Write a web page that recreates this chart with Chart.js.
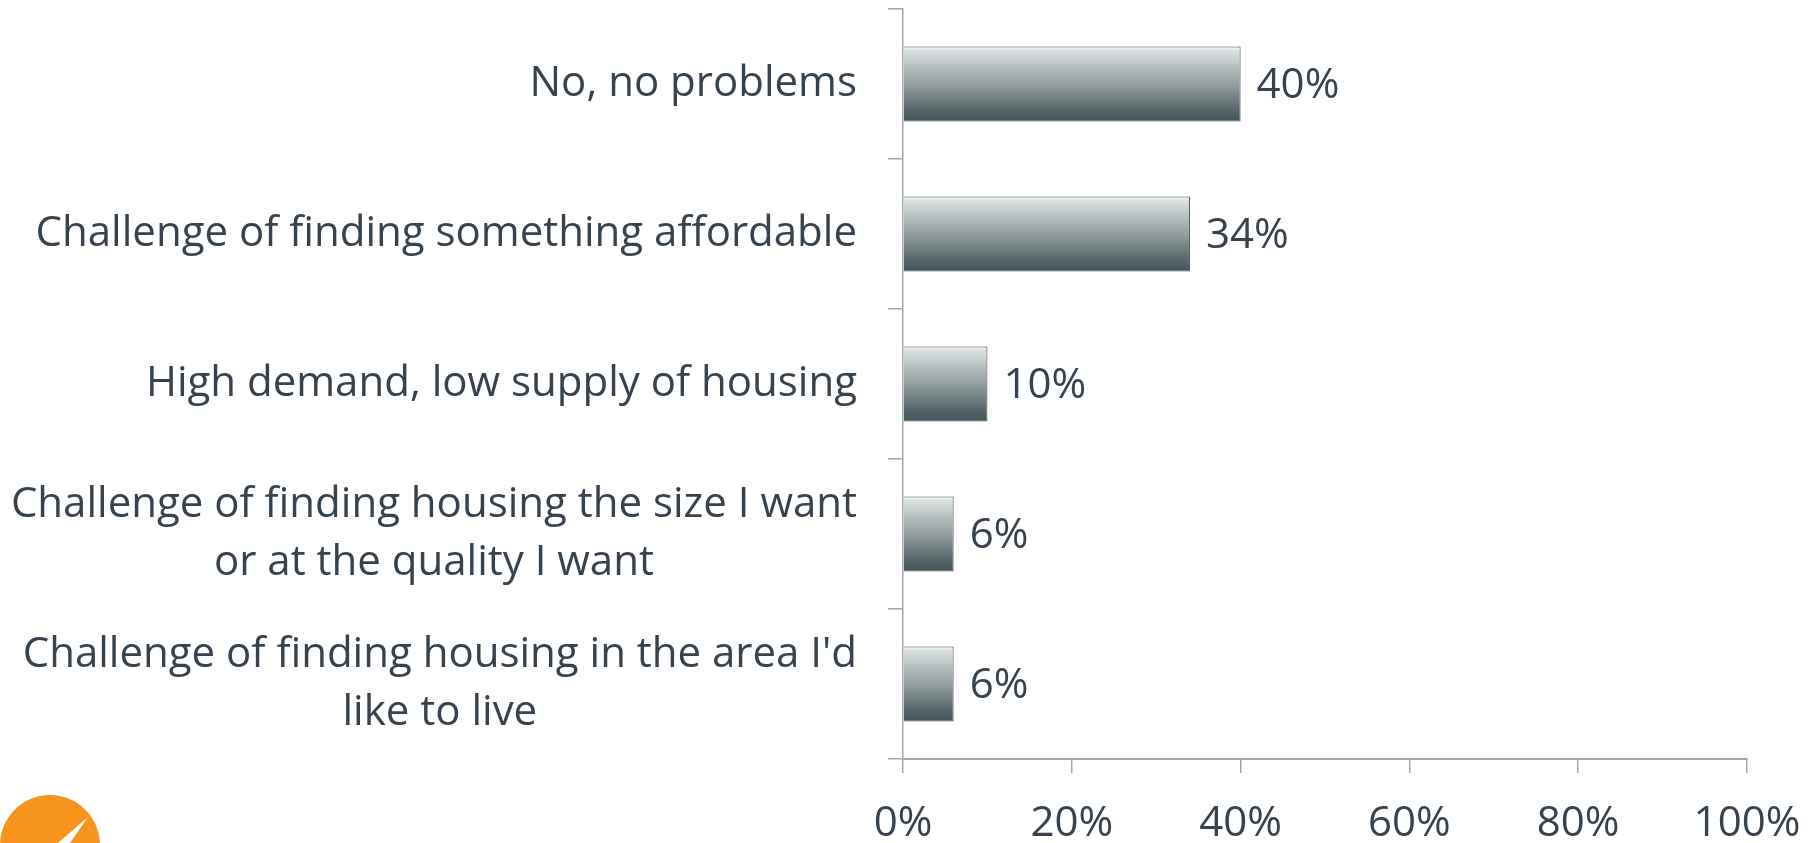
<!DOCTYPE html>
<html lang="en">
<head>
    <meta charset="UTF-8">
    <title>Housing problems</title>
    <script src="https://cdn.jsdelivr.net/npm/chart.js"></script>
    <style>
        * {
          box-sizing: border-box;
        }
        body {
          margin: 0;
          background: #ffffff;
        }
        .wrap {
          position: relative;
          width: 1816px;
          height: 843px;
        }
    </style>
</head>
<body>
    <div class="wrap">
        <canvas id="myChart"></canvas>
    </div>

    <script>
        // data
        const categories = [
            ['No, no problems'],
            ['Challenge of finding something affordable'],
            ['High demand, low supply of housing'],
            ['Challenge of finding housing the size I want', 'or at the quality I want'],
            ["Challenge of finding housing in the area I'd", 'like to live']
        ];
        const shares = [40, 34, 10, 6, 6];
        const xTicks = [0, 20, 40, 60, 80, 100];

        const textColor = '#36434e';
        const axisColor = '#a3a7aa';
        const fontFamily = '"Open Sans", "DejaVu Sans", sans-serif';
        const fontSize = 42;

        // vertical gradient for each bar, built from the bar's own position on the y scale
        function barFill(context) {
            const chart = context.chart;
            const y = chart.scales.y;
            if (!chart.chartArea || !y) return '#8d9899';
            const center = y.getPixelForValue(context.dataIndex);
            const half = y.height / categories.length / 4;
            const g = chart.ctx.createLinearGradient(0, center - half, 0, center + half);
            g.addColorStop(0, '#f4f7f7');
            g.addColorStop(0.06, '#d9dfdf');
            g.addColorStop(0.25, '#bac3c4');
            g.addColorStop(0.55, '#8a9697');
            g.addColorStop(0.85, '#566568');
            g.addColorStop(1, '#435257');
            return g;
        }

        // category labels: block right-aligned to the axis, lines centred within the block
        const categoryLabels = {
            id: 'categoryLabels',
            afterDraw(chart) {
                const ctx = chart.ctx;
                const y = chart.scales.y;
                const right = y.right - 46;
                const lineH = 58;
                ctx.save();
                ctx.font = fontSize + 'px ' + fontFamily;
                ctx.fillStyle = textColor;
                ctx.textAlign = 'center';
                ctx.textBaseline = 'middle';
                categories.forEach((lines, i) => {
                    const w = Math.max(...lines.map(l => ctx.measureText(l).width));
                    const cx = right - w / 2;
                    const cy = y.getPixelForValue(i);
                    lines.forEach((l, k) => {
                        ctx.fillText(l, cx, cy + (k - (lines.length - 1) / 2) * lineH);
                    });
                });
                ctx.restore();
            }
        };

        // value labels at the end of each bar
        const valueLabels = {
            id: 'valueLabels',
            afterDatasetsDraw(chart) {
                const ctx = chart.ctx;
                const meta = chart.getDatasetMeta(0);
                ctx.save();
                ctx.font = fontSize + 'px ' + fontFamily;
                ctx.fillStyle = textColor;
                ctx.textAlign = 'left';
                ctx.textBaseline = 'middle';
                meta.data.forEach((bar, i) => {
                    ctx.fillText(shares[i] + '%', bar.x + 16, bar.y + 2);
                });
                ctx.restore();
            }
        };

        // orange logo corner
        const logo = {
            id: 'logo',
            afterDraw(chart) {
                const ctx = chart.ctx;
                ctx.save();
                ctx.fillStyle = '#f7941d';
                ctx.beginPath();
                ctx.arc(50, 845, 50, 0, Math.PI * 2);
                ctx.fill();
                ctx.fillStyle = '#ffffff';
                ctx.beginPath();
                ctx.moveTo(58, 843);
                ctx.lineTo(88, 817);
                ctx.lineTo(70, 843);
                ctx.closePath();
                ctx.fill();
                ctx.restore();
            }
        };

        const ctx = document.getElementById('myChart').getContext('2d');
        const myChart = new Chart(ctx, {
            type: 'bar',
            data: {
                labels: categories.map(c => c.join(' ')),
                datasets: [{
                    data: shares,
                    backgroundColor: barFill,
                    borderColor: '#3f4c51',
                    borderWidth: 1,
                    categoryPercentage: 1,
                    barPercentage: 0.5
                }]
            },
            options: {
                indexAxis: 'y',
                responsive: true,
                maintainAspectRatio: false,
                animation: false,
                layout: {
                    padding: { top: 9, right: 69, left: 0, bottom: 0 }
                },
                plugins: {
                    legend: { display: false },
                    tooltip: { enabled: false }
                },
                scales: {
                    y: {
                        grid: {
                            drawOnChartArea: false,
                            color: axisColor,
                            tickLength: 15,
                            lineWidth: 1.5
                        },
                        border: { color: axisColor, width: 1.5 },
                        ticks: { display: false },
                        afterFit(scale) {
                            scale.width = 903;
                        }
                    },
                    x: {
                        min: xTicks[0],
                        max: xTicks[xTicks.length - 1],
                        afterBuildTicks(scale) {
                            scale.ticks = xTicks.map(v => ({ value: v }));
                        },
                        grid: {
                            drawOnChartArea: false,
                            color: axisColor,
                            tickLength: 14,
                            lineWidth: 1.5
                        },
                        border: { color: axisColor, width: 2 },
                        ticks: {
                            color: textColor,
                            font: { family: fontFamily, size: fontSize },
                            padding: 26,
                            maxRotation: 0,
                            callback: v => v + '%'
                        },
                        afterFit(scale) {
                            scale.height = 84;
                            scale.paddingLeft = 0;
                            scale.paddingRight = 0;
                        }
                    }
                }
            },
            plugins: [categoryLabels, valueLabels, logo]
        });
    </script>
</body>
</html>
